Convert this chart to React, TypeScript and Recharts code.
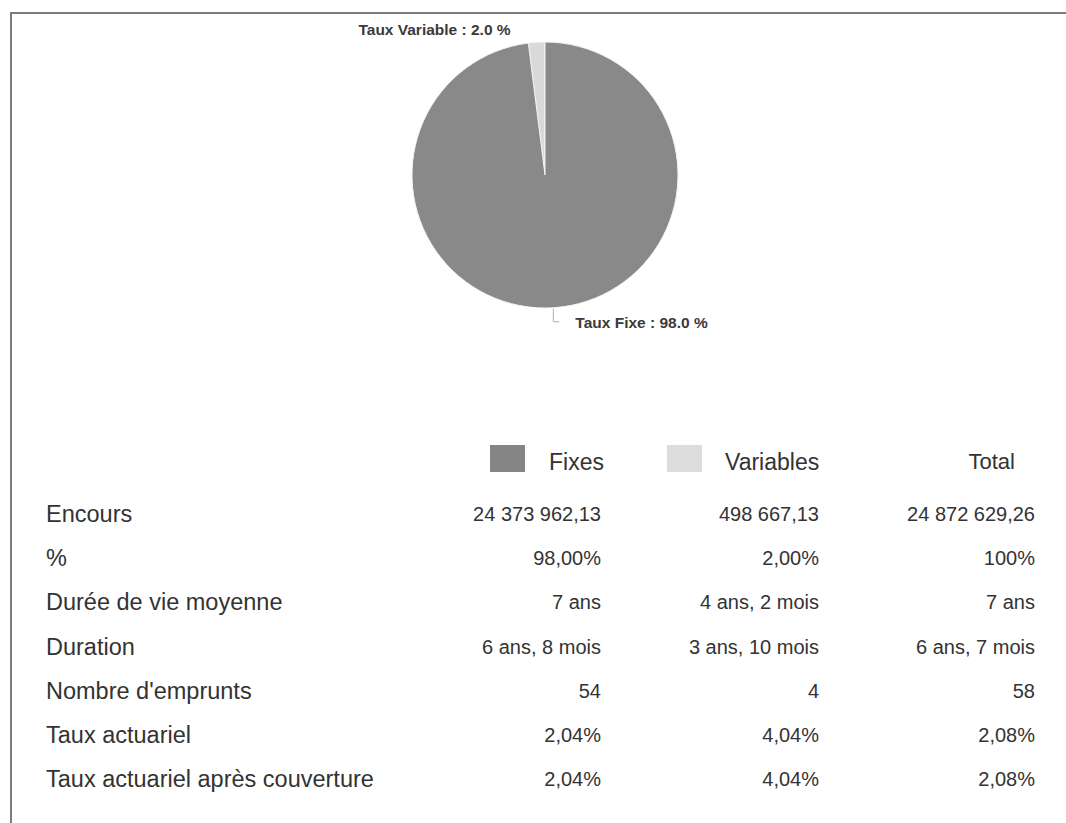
import React from 'react';
import { PieChart, Pie, Cell } from 'recharts';

// Pie slices: share of outstanding debt by rate type
const sliceNames = ['Taux Variable', 'Taux Fixe'];
const sliceShares = [2.0, 98.0];
const sliceColors = ['#d9d9d9', '#898989'];

// Summary table
const columnHeaders = ['Fixes', 'Variables', 'Total'];
const legendColors = ['#858585', '#dddddd'];
const rowLabels = [
  'Encours',
  '%',
  'Durée de vie moyenne',
  'Duration',
  "Nombre d'emprunts",
  'Taux actuariel',
  'Taux actuariel après couverture',
];
const fixesColumn = ['24 373 962,13', '98,00%', '7 ans', '6 ans, 8 mois', '54', '2,04%', '2,04%'];
const variablesColumn = ['498 667,13', '2,00%', '4 ans, 2 mois', '3 ans, 10 mois', '4', '4,04%', '4,04%'];
const totalColumn = ['24 872 629,26', '100%', '7 ans', '6 ans, 7 mois', '58', '2,08%', '2,08%'];

const pieData = sliceNames.map((name, i) => ({ name, value: sliceShares[i] }));

const FONT = '"Liberation Sans", Arial, Helvetica, sans-serif';
const TEXT = '#333333';
const RAD = Math.PI / 180;

function renderSliceLabel(props: any) {
  const { cx, cy, midAngle, outerRadius } = props;
  const name = props.name ?? props.payload?.name;
  const value = Number(props.value ?? props.payload?.value);
  const ex = cx + outerRadius * Math.cos(-midAngle * RAD);
  const ey = cy + outerRadius * Math.sin(-midAngle * RAD);
  const text = `${name} : ${value.toFixed(1)} %`;
  const style = { fontFamily: FONT, fontSize: 15.5, fontWeight: 700, fill: '#3a3a3a' } as const;
  if (ey > cy) {
    const by = ey + 14;
    return (
      <g>
        <polyline
          points={`${ex},${ey + 1} ${ex},${by} ${ex + 6},${by}`}
          stroke="#b0b0b0"
          strokeWidth={1}
          fill="none"
        />
        <text x={ex + 22} y={by + 6} textAnchor="start" style={style}>
          {text}
        </text>
      </g>
    );
  }
  return (
    <text x={ex - 26} y={ey - 7} textAnchor="end" style={style}>
      {text}
    </text>
  );
}

const ROW_TOP = 514;
const ROW_STEP = 44.2;
const LINE = 30;

function TextCell({ text, left, right, center, size }: { text: string; left?: number; right?: number; center: number; size: number }) {
  const style: React.CSSProperties = {
    position: 'absolute',
    top: center - LINE / 2,
    height: LINE,
    lineHeight: `${LINE}px`,
    fontSize: size,
    fontFamily: FONT,
    color: TEXT,
    whiteSpace: 'nowrap',
  };
  if (left !== undefined) style.left = left;
  if (right !== undefined) {
    style.right = 1066 - right;
    style.textAlign = 'right';
  }
  return <div style={style}>{text}</div>;
}

export default function App() {
  const columns = [fixesColumn, variablesColumn, totalColumn];
  const columnRight = [601, 819, 1035];
  return (
    <div
      style={{
        position: 'absolute',
        left: 0,
        top: 0,
        width: 1066,
        height: 823,
        background: '#ffffff',
        overflow: 'hidden',
      }}
    >
      <div
        style={{
          position: 'absolute',
          left: 10,
          top: 12,
          width: 1100,
          height: 900,
          borderTop: '2px solid #7c7c7c',
          borderLeft: '2px solid #7c7c7c',
        }}
      />
      <div style={{ position: 'absolute', left: 0, top: 0 }}>
        <PieChart width={1066} height={380}>
          <Pie
            data={pieData}
            dataKey="value"
            nameKey="name"
            cx={540}
            cy={170}
            outerRadius={133}
            startAngle={90}
            endAngle={450}
            stroke="#f4f4f4"
            strokeWidth={1}
            label={renderSliceLabel}
            labelLine={false}
            isAnimationActive={false}
          >
            {pieData.map((d, i) => (
              <Cell key={d.name} fill={sliceColors[i]} />
            ))}
          </Pie>
        </PieChart>
      </div>

      {/* column headers with legend swatches */}
      <div style={{ position: 'absolute', left: 490, top: 445, width: 35, height: 27, background: legendColors[0] }} />
      <TextCell text={columnHeaders[0]} left={549} center={462} size={23} />
      <div style={{ position: 'absolute', left: 667, top: 445, width: 35, height: 27, background: legendColors[1] }} />
      <TextCell text={columnHeaders[1]} left={725} center={462} size={23} />
      <TextCell text={columnHeaders[2]} right={1015} center={462} size={22} />

      {rowLabels.map((label, r) => {
        const center = ROW_TOP + r * ROW_STEP;
        return (
          <React.Fragment key={label}>
            <TextCell text={label} left={46} center={center} size={23.5} />
            {columns.map((col, c) => (
              <TextCell key={c} text={col[r]} right={columnRight[c]} center={center} size={20} />
            ))}
          </React.Fragment>
        );
      })}
    </div>
  );
}
